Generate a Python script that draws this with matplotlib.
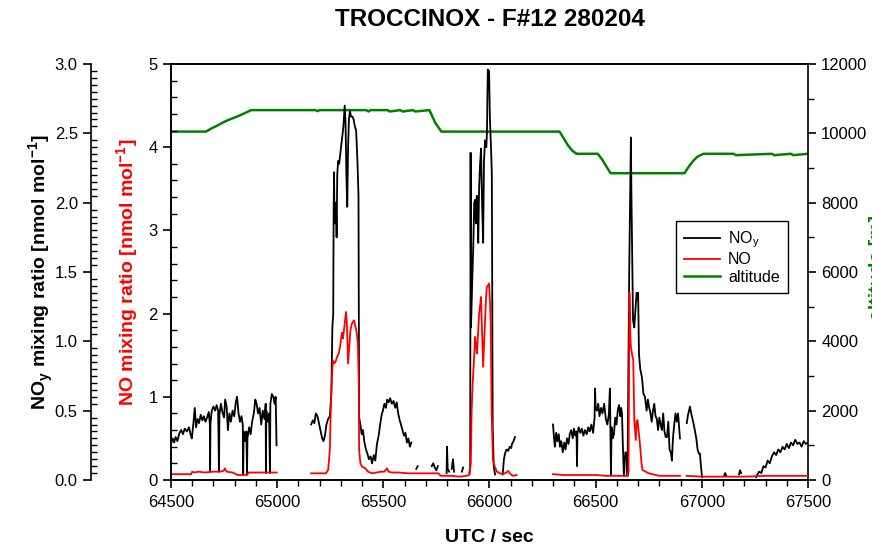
import numpy as np
import matplotlib.pyplot as plt
from matplotlib.ticker import MultipleLocator, FormatStrFormatter

plt.rcParams['font.family'] = 'Liberation Sans'
plt.rcParams['mathtext.fontset'] = 'custom'
plt.rcParams['mathtext.rm'] = 'Liberation Sans'
plt.rcParams['mathtext.bf'] = 'Liberation Sans:bold'

nan = np.nan

# NOy mixing ratio (nmol/mol), time in UTC seconds; nan = data gap
noy_t = [64500, 64508, 64515, 64522, 64530, 64540, 64548, 64556, 64565, 64575,
         64585, 64592, 64598, 64605, 64612, 64618, 64625, 64632, 64640, 64648,
         64655, 64662, 64670, 64678, 64683, 64684, 64686, 64692, 64700, 64708,
         64715, 64722, 64726, 64728, 64735, 64742, 64750, 64755, 64762, 64768,
         64775, 64782, 64790, 64798, 64805, 64811, 64818, 64825, 64832, 64838,
         64840, 64842, 64848, 64855, 64858, 64860, 64868, 64875, 64882, 64890,
         64897, 64903, 64910, 64917, 64925, 64932, 64940, 64946, 64947, 64949,
         64955, 64962, 64966, 64968, 64975, 64982, 64988, 64993, 64997, 64998,
         65160, 65168, 65175, 65182, 65190, 65198, 65205, 65212, 65218, 65225,
         65232, 65240, 65248, 65255, 65260, 65264, 65266, 65268, 65270, 65273,
         65277, 65280, 65283, 65287, 65292, 65298, 65305, 65312, 65318, 65322,
         65326, 65330, 65334, 65338, 65343, 65348, 65355, 65360, 65366, 65372,
         65378, 65383, 65386, 65392, 65398, 65404, 65410, 65418, 65425, 65432,
         65440, 65447, 65455, 65462, 65470, 65478, 65485, 65492, 65498, 65505,
         65512, 65518, 65525, 65532, 65540, 65548, 65556, 65563, 65570, 65577,
         65583, 65590, 65597, 65604, 65611, 65618, 65625, 65632, 65633,
         65655, 65662, 65663,
         65728, 65735, 65742, 65750, 65757, 65758,
         65798, 65800, 65803, 65810, 65811,
         65822, 65828, 65833, 65834,
         65870, 65876, 65877,
         65905, 65909, 65911, 65913, 65918, 65924, 65928, 65932, 65936, 65940,
         65944, 65947, 65951, 65955, 65960, 65965, 65970, 65974, 65979, 65985,
         65988, 65992, 65998, 66002, 66007, 66011, 66015, 66020, 66026, 66027,
         66062, 66068, 66073, 66080, 66088, 66095, 66102, 66106, 66113, 66120, 66121,
         66299, 66304, 66308, 66314, 66320, 66326, 66332, 66338, 66345, 66352,
         66358, 66365, 66372, 66378, 66385, 66392, 66398, 66404, 66410, 66412,
         66414, 66420, 66428, 66435, 66442, 66450, 66458, 66465, 66472, 66480,
         66488, 66495, 66497, 66500, 66506, 66512, 66518, 66525, 66532, 66540,
         66548, 66555, 66562, 66567, 66570, 66572, 66575, 66580, 66586, 66592,
         66598, 66604, 66610, 66616, 66620, 66624, 66628, 66633, 66640, 66646,
         66650, 66658, 66666, 66668, 66676, 66682, 66686, 66693, 66698, 66700,
         66704, 66710, 66718, 66725, 66732, 66740, 66746, 66752, 66756, 66764,
         66770, 66776, 66782, 66788, 66794, 66800, 66806, 66812, 66818, 66824,
         66830, 66836, 66842, 66848, 66854, 66859, 66864, 66870, 66876, 66882,
         66888, 66894, 66897, 66898,
         66929, 66935, 66944, 66950, 66956, 66962, 66968, 66974, 66980, 66986,
         66991, 66996, 67001, 67002,
         67105, 67110, 67115, 67116,
         67175, 67180, 67185, 67186,
         67255, 67262, 67270, 67280, 67290, 67300, 67310, 67320, 67330, 67340,
         67350, 67360, 67370, 67380, 67390, 67400, 67410, 67420, 67430, 67440,
         67450, 67460, 67470, 67480, 67490, 67500]
noy_v = [0.26, 0.30, 0.27, 0.31, 0.28, 0.34, 0.36, 0.33, 0.37, 0.35,
         0.38, 0.33, 0.30, 0.40, 0.52, 0.38, 0.44, 0.41, 0.47, 0.43,
         0.46, 0.42, 0.45, 0.49, 0.40, 0.06, 0.41, 0.50, 0.53, 0.50,
         0.54, 0.50, 0.06, 0.47, 0.55, 0.49, 0.45, 0.58, 0.53, 0.36,
         0.48, 0.42, 0.50, 0.46, 0.56, 0.60, 0.48, 0.42, 0.46, 0.40,
         0.04, 0.35, 0.28, 0.35, 0.04, 0.30, 0.38, 0.33, 0.42, 0.48,
         0.58, 0.55, 0.48, 0.52, 0.40, 0.50, 0.44, 0.55, 0.05, 0.50,
         0.42, 0.48, 0.05, 0.55, 0.62, 0.60, 0.55, 0.60, 0.25, nan,
         0.40, 0.43, 0.41, 0.48, 0.46, 0.40, 0.35, 0.30, 0.28, 0.32,
         0.40, 0.44, 0.46, 0.62, 1.10, 1.20, 1.95, 2.22, 1.85, 1.95,
         2.00, 1.75, 2.20, 2.30, 2.28, 2.36, 2.45, 2.55, 2.70, 2.58,
         2.20, 1.97, 2.40, 2.60, 2.66, 2.62, 2.62, 2.60, 2.55, 2.52,
         2.30, 2.05, 0.45, 0.40, 0.33, 0.36, 0.28, 0.22, 0.19, 0.15,
         0.17, 0.12, 0.18, 0.14, 0.26, 0.32, 0.40, 0.47, 0.50, 0.55,
         0.52, 0.58, 0.56, 0.59, 0.55, 0.57, 0.52, 0.56, 0.48, 0.43,
         0.40, 0.36, 0.32, 0.34, 0.27, 0.30, 0.24, 0.27, nan,
         0.08, 0.10, nan,
         0.10, 0.12, 0.09, 0.07, 0.10, nan,
         0.05, 0.24, 0.08, 0.06, nan,
         0.08, 0.15, 0.06, nan,
         0.06, 0.09, nan,
         0.05, 0.08, 2.36, 1.10, 1.40, 1.71, 2.00, 2.02, 1.85, 2.05,
         1.90, 1.71, 2.10, 2.26, 2.39, 2.00, 1.71, 2.30, 2.45, 2.40,
         2.50, 2.96, 2.95, 2.60, 2.40, 2.21, 0.38, 0.10, 0.04, nan,
         0.04, 0.15, 0.19, 0.22, 0.21, 0.24, 0.23, 0.26, 0.28, 0.31, nan,
         0.40, 0.30, 0.24, 0.34, 0.28, 0.33, 0.24, 0.28, 0.20, 0.27,
         0.22, 0.30, 0.26, 0.33, 0.36, 0.30, 0.37, 0.32, 0.35, 0.10,
         0.33, 0.38, 0.34, 0.37, 0.32, 0.36, 0.33, 0.38, 0.35, 0.40,
         0.34, 0.45, 0.66, 0.52, 0.50, 0.55, 0.46, 0.52, 0.48, 0.55,
         0.44, 0.40, 0.47, 0.66, 0.30, 0.04, 0.38, 0.30, 0.33, 0.45,
         0.40, 0.50, 0.54, 0.46, 0.52, 0.48, 0.25, 0.03, 0.20, 0.19,
         0.03, 1.51, 2.47, 2.11, 1.15, 1.10, 1.20, 1.35, 1.30, 1.35,
         0.91, 0.80, 0.74, 0.62, 0.60, 0.50, 0.58, 0.52, 0.50, 0.42,
         0.50, 0.55, 0.46, 0.44, 0.36, 0.45, 0.40, 0.36, 0.48, 0.35,
         0.31, 0.31, 0.42, 0.22, 0.20, 0.14, 0.30, 0.40, 0.48, 0.42,
         0.48, 0.36, 0.30, nan,
         0.41, 0.47, 0.53, 0.48, 0.44, 0.40, 0.35, 0.30, 0.22, 0.19,
         0.19, 0.10, 0.02, nan,
         0.03, 0.05, 0.03, nan,
         0.04, 0.07, 0.05, nan,
         0.02, 0.04, 0.06, 0.05, 0.10, 0.09, 0.14, 0.12, 0.17, 0.20,
         0.18, 0.22, 0.20, 0.24, 0.22, 0.26, 0.23, 0.27, 0.25, 0.29,
         0.26, 0.27, 0.24, 0.28, 0.26, 0.27]

# NO mixing ratio (nmol/mol)
no_t = [64500, 64560, 64595, 64600, 64610, 64630, 64660, 64700, 64730, 64748,
        64754, 64762, 64790, 64815, 64830, 64858, 64866, 64920, 64960, 64998, 64999,
        65160, 65200, 65230, 65240, 65248, 65252, 65256, 65262, 65268, 65275,
        65282, 65290, 65296, 65305, 65310, 65317, 65324, 65328, 65334, 65338,
        65345, 65352, 65362, 65368, 65374, 65380, 65384, 65386, 65392, 65400,
        65415, 65428, 65447, 65470, 65490, 65505, 65517, 65525, 65540, 65570,
        65620, 65680, 65730, 65760, 65770, 65820, 65860, 65890, 65905, 65912,
        65916, 65920, 65926, 65932, 65937, 65941, 65946, 65951, 65956, 65960,
        65965, 65970, 65976, 65982, 65987, 65993, 65998, 66003, 66006, 66010,
        66016, 66025, 66035, 66050, 66064, 66080, 66088, 66095, 66110, 66128, 66129,
        66299, 66350, 66400, 66450, 66500, 66550, 66600, 66650, 66655, 66659,
        66661, 66664, 66666, 66672, 66677, 66680, 66682, 66689, 66693, 66697,
        66702, 66706, 66711, 66716, 66721, 66735, 66750, 66800, 66850, 66897, 66898,
        66928, 67000, 67100, 67200, 67300, 67400, 67500]
no_v = [0.07, 0.07, 0.07, 0.10, 0.09, 0.10, 0.09, 0.10, 0.10, 0.11,
        0.14, 0.10, 0.09, 0.06, 0.06, 0.06, 0.09, 0.09, 0.09, 0.09, nan,
        0.08, 0.08, 0.08, 0.12, 0.36, 0.80, 1.12, 1.44, 1.40, 1.42,
        1.48, 1.52, 1.60, 1.77, 1.70, 1.85, 2.02, 1.90, 1.40, 1.55,
        1.80, 1.88, 1.92, 1.85, 1.78, 1.65, 1.20, 0.36, 0.20, 0.16,
        0.14, 0.10, 0.08, 0.09, 0.10, 0.10, 0.14, 0.10, 0.09, 0.09,
        0.08, 0.08, 0.08, 0.08, 0.05, 0.05, 0.04, 0.05, 0.06, 0.20,
        0.84, 1.12, 1.40, 1.72, 1.60, 1.52, 1.75, 2.00, 2.10, 2.20,
        1.80, 1.36, 1.72, 2.10, 2.32, 2.34, 2.36, 2.10, 1.84, 0.84,
        0.24, 0.16, 0.10, 0.08, 0.07, 0.09, 0.11, 0.08, 0.05, 0.06, nan,
        0.07, 0.06, 0.06, 0.06, 0.06, 0.05, 0.05, 0.05, 0.10, 2.25,
        2.00, 1.70, 1.60, 1.50, 1.44, 1.00, 0.72, 0.48, 0.70, 0.72,
        0.60, 0.50, 0.36, 0.20, 0.12, 0.10, 0.08, 0.05, 0.05, 0.05, nan,
        0.05, 0.04, 0.04, 0.04, 0.05, 0.05, 0.05]

# flight altitude (m)
alt_t = [64500, 64665, 64690, 64720, 64750, 64780, 64810, 64840, 64877, 65180,
         65190, 65200, 65420, 65430, 65440, 65520, 65530, 65580, 65590, 65640,
         65650, 65717, 65745, 65773, 66330, 66350, 66370, 66390, 66410, 66510,
         66530, 66550, 66570, 66918, 66940, 66960, 66980, 67008, 67150, 67160,
         67330, 67340, 67420, 67430, 67500]
alt_v = [10050, 10050, 10140, 10230, 10330, 10410, 10480, 10560, 10670, 10670,
         10640, 10670, 10670, 10630, 10670, 10670, 10630, 10670, 10630, 10670,
         10630, 10670, 10300, 10050, 10050, 9850, 9650, 9500, 9410, 9410,
         9250, 9050, 8850, 8850, 9050, 9210, 9330, 9410, 9410, 9370,
         9410, 9370, 9410, 9370, 9410]

fig = plt.figure(figsize=(8.72, 5.47), dpi=100)
ax = fig.add_axes([0.1961, 0.1225, 0.7305, 0.7605])
ax_alt = ax.twinx()
ax_noy = ax.twinx()
ax.set_zorder(3)
ax.patch.set_visible(False)
ax_noy.set_zorder(2)
ax_alt.set_zorder(1)

l_alt, = ax_alt.plot(alt_t, alt_v, color='#008000', lw=1.8)
l_noy, = ax_noy.plot(noy_t, noy_v, color='black', lw=1.3)
l_no, = ax.plot(no_t, no_v, color='#ff0000', lw=1.3)

ax.set_xlim(64500, 67500)
ax.xaxis.set_major_locator(MultipleLocator(500))
ax.xaxis.set_minor_locator(MultipleLocator(100))
ax.set_ylim(0, 5)
ax.yaxis.set_major_locator(MultipleLocator(1))
ax.yaxis.set_minor_locator(MultipleLocator(0.2))

# NOy axis sits 80 px left of the plot frame
ax_noy.set_ylim(0, 3)
ax_noy.yaxis.set_major_locator(MultipleLocator(0.5))
ax_noy.yaxis.set_minor_locator(MultipleLocator(0.05))
ax_noy.yaxis.set_major_formatter(FormatStrFormatter('%.1f'))
ax_noy.yaxis.set_ticks_position('left')
ax_noy.yaxis.set_label_position('left')
ax_noy.spines['left'].set_position(('outward', 80 * 0.72))
ax_noy.spines['left'].set_visible(True)
for s in ['right', 'top', 'bottom']:
    ax_noy.spines[s].set_visible(False)

ax_alt.set_ylim(0, 12000)
ax_alt.yaxis.set_major_locator(MultipleLocator(2000))
ax_alt.yaxis.set_minor_locator(MultipleLocator(1000))
ax.spines['right'].set_visible(False)

for a in [ax, ax_noy, ax_alt]:
    for s in a.spines.values():
        s.set_linewidth(1.2)
ax.tick_params(axis='x', which='major', direction='out', length=6, width=1.2, labelsize=12, pad=5)
ax.tick_params(axis='x', which='minor', direction='out', length=4, width=1)
ax.tick_params(axis='y', which='major', direction='out', length=6, width=1.2, labelsize=12)
ax.tick_params(axis='y', which='minor', direction='in', length=4, width=1)
ax_noy.tick_params(axis='y', which='major', direction='out', length=6, width=1.2, labelsize=12)
ax_noy.tick_params(axis='y', which='minor', direction='in', length=4, width=1)
ax_alt.tick_params(axis='y', which='major', direction='out', length=6, width=1.2, labelsize=12)
ax_alt.tick_params(axis='y', which='minor', direction='out', length=4, width=1)

ax.set_xlabel('UTC / sec', fontsize=14, fontweight='bold', va='top')
ax.xaxis.set_label_coords(0.5, -0.118)
ax.set_ylabel('NO mixing ratio [nmol mol$^{\\mathbf{-1}}$]', fontsize=14,
              fontweight='bold', color='#ff0000')
ax.yaxis.set_label_coords(-0.047, 0.5)
ax_noy.set_ylabel('NO$_\\mathbf{y}$ mixing ratio [nmol mol$^{\\mathbf{-1}}$]',
                  fontsize=14, fontweight='bold')
ax_noy.yaxis.set_label_coords(-0.18, 0.5)

fig.text(490 / 872, 1 - 19 / 547, 'TROCCINOX - F#12 280204', ha='center',
         va='center', fontsize=17.5, fontweight='bold')
fig.text(869 / 872, 1 - 267 / 547, 'altitude [m]', rotation=90, ha='left',
         va='center', fontsize=14, fontweight='bold', color='#008000')

ax.legend([l_noy, l_no, l_alt], ['NO$_\\mathrm{y}$', 'NO', 'altitude'],
          loc='upper left', bbox_to_anchor=(0.793, 0.622), fontsize=11.5,
          frameon=True, fancybox=False, framealpha=1, edgecolor='black',
          handlelength=2.25, handletextpad=0.5, borderpad=0.5, labelspacing=0.15,
          borderaxespad=0)

fig.savefig('out.png', dpi=100)
